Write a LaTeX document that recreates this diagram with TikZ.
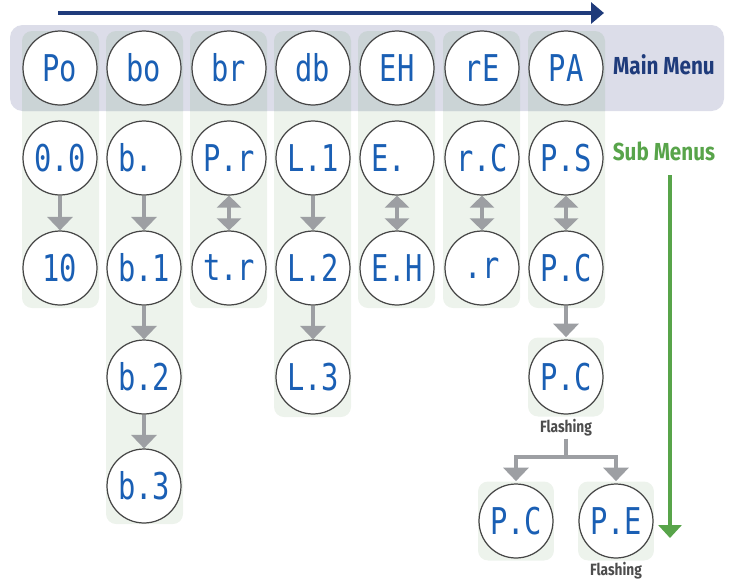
\documentclass[tikz,border=0pt]{standalone}
\usepackage{fontspec}
\usepackage{tikz}
\usetikzlibrary{arrows.meta}
\setmainfont{Fira Sans}
\newfontfamily\segfont[FakeStretch=0.78]{DejaVu Sans Mono}
\newfontfamily\condfont[FakeStretch=0.84]{Fira Sans}
\definecolor{bandgrey}{RGB}{220,221,233}
\definecolor{colgreen}{RGB}{237,243,236}
\definecolor{coldark}{RGB}{203,212,214}
\definecolor{navy}{RGB}{31,59,123}
\definecolor{subgreen}{RGB}{88,164,74}
\definecolor{arrowgrey}{RGB}{157,159,163}
\definecolor{ringgrey}{RGB}{70,70,70}
\definecolor{digitblue}{RGB}{26,95,180}
\definecolor{flashgrey}{RGB}{77,77,77}

\begin{document}
\begin{tikzpicture}[x=0.02cm,y=-0.02cm,
  disp/.style={circle,draw=ringgrey,line width=0.7pt,fill=white,minimum size=1.48cm,inner sep=0pt,
               text=digitblue,font=\segfont\fontsize{21}{21}\selectfont},
  onebox/.style={rectangle,fill=colgreen,rounded corners=0.2cm,minimum width=1.52cm,minimum height=1.58cm,inner sep=0pt},
  garrow/.style={draw=arrowgrey,line width=1.9pt,-{Triangle[width=0.5cm,length=0.27cm]}},
  gdarrow/.style={draw=arrowgrey,line width=1.9pt,{Triangle[width=0.48cm,length=0.24cm]}-{Triangle[width=0.48cm,length=0.24cm]}},
  flash/.style={text=flashgrey,font=\condfont\bfseries\fontsize{9.3}{10}\selectfont,inner sep=1pt},
  menulbl/.style={font=\condfont\bfseries\fontsize{14}{16}\selectfont,inner sep=1pt}]
\useasboundingbox (0,0) rectangle (731,579);

% column backgrounds
\foreach \xl/\yb in {22/308,106/524,190/308,274/417,358/308,443/308,528/308}
  \fill[colgreen,rounded corners=0.2cm] (\xl,31) rectangle (\xl+77,\yb);

% main menu band
\fill[bandgrey,rounded corners=0.25cm] (10,25) rectangle (724,111);
\begin{scope}
  \clip[rounded corners=0.25cm] (10,25) rectangle (724,111);
  \foreach \xl/\yb in {22/308,106/524,190/308,274/417,358/308,443/308,528/308}
    \fill[coldark,rounded corners=0.2cm] (\xl,31) rectangle (\xl+77,\yb);
\end{scope}

% main menu
\node[disp] (po) at (60,68)  {Po};
\node[disp] (bo) at (144,68) {bo};
\node[disp] (br) at (229,68) {br};
\node[disp] (db) at (313,68) {db};
\node[disp] (eh) at (397,68) {EH};
\node[disp] (re) at (482,68) {rE};
\node[disp] (pa) at (566,68) {PA};

% sub menus
\node[disp] (zz)   at (60,158)  {0.0};
\node[disp] (ten)  at (60,268)  {10};
\node[disp] (bd)   at (144,158) {b.\hphantom{0}};
\node[disp] (b1)   at (144,268) {b.1};
\node[disp] (b2)   at (144,377) {b.2};
\node[disp] (b3)   at (144,486) {b.3};
\node[disp] (pr)   at (229,158) {P.r};
\node[disp] (tr)   at (229,268) {t.r};
\node[disp] (l1)   at (313,158) {L.1};
\node[disp] (l2)   at (313,268) {L.2};
\node[disp] (l3)   at (313,377) {L.3};
\node[disp] (ed)   at (397,158) {E.\hphantom{0}};
\node[disp] (eh2)  at (397,268) {E.H};
\node[disp] (rc)   at (482,158) {r.C};
\node[disp] (rd)   at (482,268) {.r};
\node[disp] (ps)   at (566,158) {P.S};
\node[disp] (pc)   at (566,268) {P.C};

% flashing branch
\node[onebox] (pcbox) at (566,377) {};
\node[disp]   (pcf)   at (566,377) {P.C};
\node[flash]  (fl1)   at (566,428) {Flashing};
\node[onebox] (pclbox) at (516,521) {};
\node[disp]   (pcl)    at (516,521) {P.C};
\node[onebox] (pebox)  at (616,521) {};
\node[disp]   (pe)     at (616,521) {P.E};
\node[flash]  (fl2)    at (616,571) {Flashing};

\draw[garrow]  (zz) -- (ten);
\draw[garrow]  (bd) -- (b1);
\draw[garrow]  (b1) -- (b2);
\draw[garrow]  (b2) -- (b3);
\draw[gdarrow] (pr) -- (tr);
\draw[garrow]  (l1) -- (l2);
\draw[garrow]  (l2) -- (l3);
\draw[gdarrow] (ed) -- (eh2);
\draw[gdarrow] (rc) -- (rd);
\draw[gdarrow] (ps) -- (pc);
\draw[garrow]  (pc) -- (pcbox);
\coordinate (fork) at (566,457);
\draw[draw=arrowgrey,line width=1.9pt] (fl1) -- (fork);
\draw[garrow] (fork) -| (pclbox);
\draw[garrow] (fork) -| (pebox);

% labels and direction arrows
\node[menulbl,text=navy] (mainlbl) at (664,65) {Main Menu};
\node[menulbl,text=subgreen] (sublbl) at (664,151) {Sub Menus};
\coordinate (navyl) at (58,13);
\coordinate (navyr) at (604,13);
\draw[navy,line width=1.9pt,-{Triangle[width=0.42cm,length=0.26cm]}] (navyl) -- (navyr);
\coordinate (greent) at (670,175);
\coordinate (greenb) at (670,538);
\draw[subgreen,line width=1.9pt,-{Triangle[width=0.46cm,length=0.26cm]}] (greent) -- (greenb);
\end{tikzpicture}
\end{document}
